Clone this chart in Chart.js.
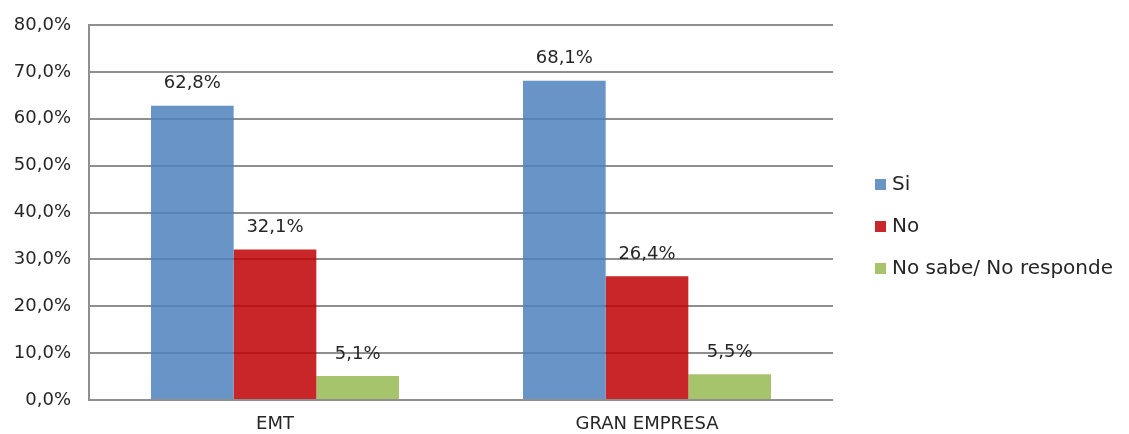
<!DOCTYPE html>
<html>
<head>
<meta charset="utf-8">
<script src="https://cdn.jsdelivr.net/npm/chart.js@4/dist/chart.umd.min.js"></script>
<style>
    html, body { margin: 0; padding: 0; background: #fff; }
    #wrap { position: relative; width: 1129px; height: 434px; }
    #legend { position: absolute; left: 875px; top: 171px; font-family: "DejaVu Sans", sans-serif; font-size: 20px; color: #262626; }
    .legend-item { height: 42px; display: flex; align-items: flex-start; }
    .legend-box { width: 11px; height: 11px; margin-top: 8px; margin-right: 6px; }
</style>
</head>
<body>
<div id="wrap">
    <canvas id="chart" width="1129" height="434"></canvas>
    <div id="legend"></div>
</div>
<script>
const categories = ["EMT", "GRAN EMPRESA"];
const seriesNames = ["Si", "No", "No sabe/ No responde"];
const siValues = [62.8, 68.1];
const noValues = [32.1, 26.4];
const nsnrValues = [5.1, 5.5];
// bars are slightly see-through so the grid shows across them
const seriesColors = ["rgba(79, 129, 189, 0.85)", "rgba(192, 0, 4, 0.85)", "rgba(150, 186, 82, 0.85)"];
const legendColors = ["#6894c6", "#c9272b", "#a5c46c"];

const FONT = "DejaVu Sans";
const TEXT_COLOR = "#262626";
const GRID_COLOR = "#8f8f8f";

function formatPct(value, digits) {
    return `${Number(value).toFixed(digits).replace(".", ",")}%`;
}

const valueLabels = {
    id: "valueLabels",
    afterDatasetsDraw(chart) {
        const ctx = chart.ctx;
        ctx.save();
        ctx.font = `18px "${FONT}"`;
        ctx.fillStyle = TEXT_COLOR;
        ctx.textAlign = "center";
        ctx.textBaseline = "middle";
        chart.data.datasets.forEach((ds, i) => {
            chart.getDatasetMeta(i).data.forEach((bar, j) => {
                ctx.fillText(formatPct(ds.data[j], 1), bar.x, bar.y - 22);
            });
        });
        ctx.restore();
    }
};

const allValues = [siValues, noValues, nsnrValues];

new Chart(document.getElementById("chart"), {
    type: "bar",
    data: {
        labels: categories,
        datasets: seriesNames.map((name, i) => ({
            label: name,
            data: allValues[i],
            backgroundColor: seriesColors[i],
            borderWidth: 0,
            categoryPercentage: 2 / 3,
            barPercentage: 1
        }))
    },
    options: {
        responsive: false,
        animation: false,
        layout: { padding: { top: 25, right: 296, bottom: 0, left: 0 } },
        plugins: { legend: { display: false }, tooltip: { enabled: false } },
        scales: {
            x: {
                grid: { display: false, drawTicks: false },
                border: { display: false },
                ticks: { color: TEXT_COLOR, font: { family: FONT, size: 18 }, padding: 14 },
                afterFit(scale) {
                    scale.height = 34;
                    scale.paddingTop = 0;
                    scale.paddingBottom = 0;
                }
            },
            y: {
                min: 0,
                max: 80,
                ticks: {
                    stepSize: 10,
                    color: TEXT_COLOR,
                    font: { family: FONT, size: 18 },
                    padding: 18,
                    callback(value) { return formatPct(value, 1); }
                },
                grid: { color: GRID_COLOR, lineWidth: 2, drawTicks: false },
                border: { display: true, color: GRID_COLOR, width: 2 },
                afterFit(scale) {
                    scale.width = 89;
                    scale.paddingTop = 0;
                    scale.paddingBottom = 0;
                }
            }
        }
    },
    plugins: [valueLabels]
});

document.getElementById("legend").innerHTML = seriesNames.map((name, i) => `
    <div class="legend-item"><span class="legend-box" style="background:${legendColors[i]}"></span><span>${name}</span></div>
`).join("");
</script>
</body>
</html>
